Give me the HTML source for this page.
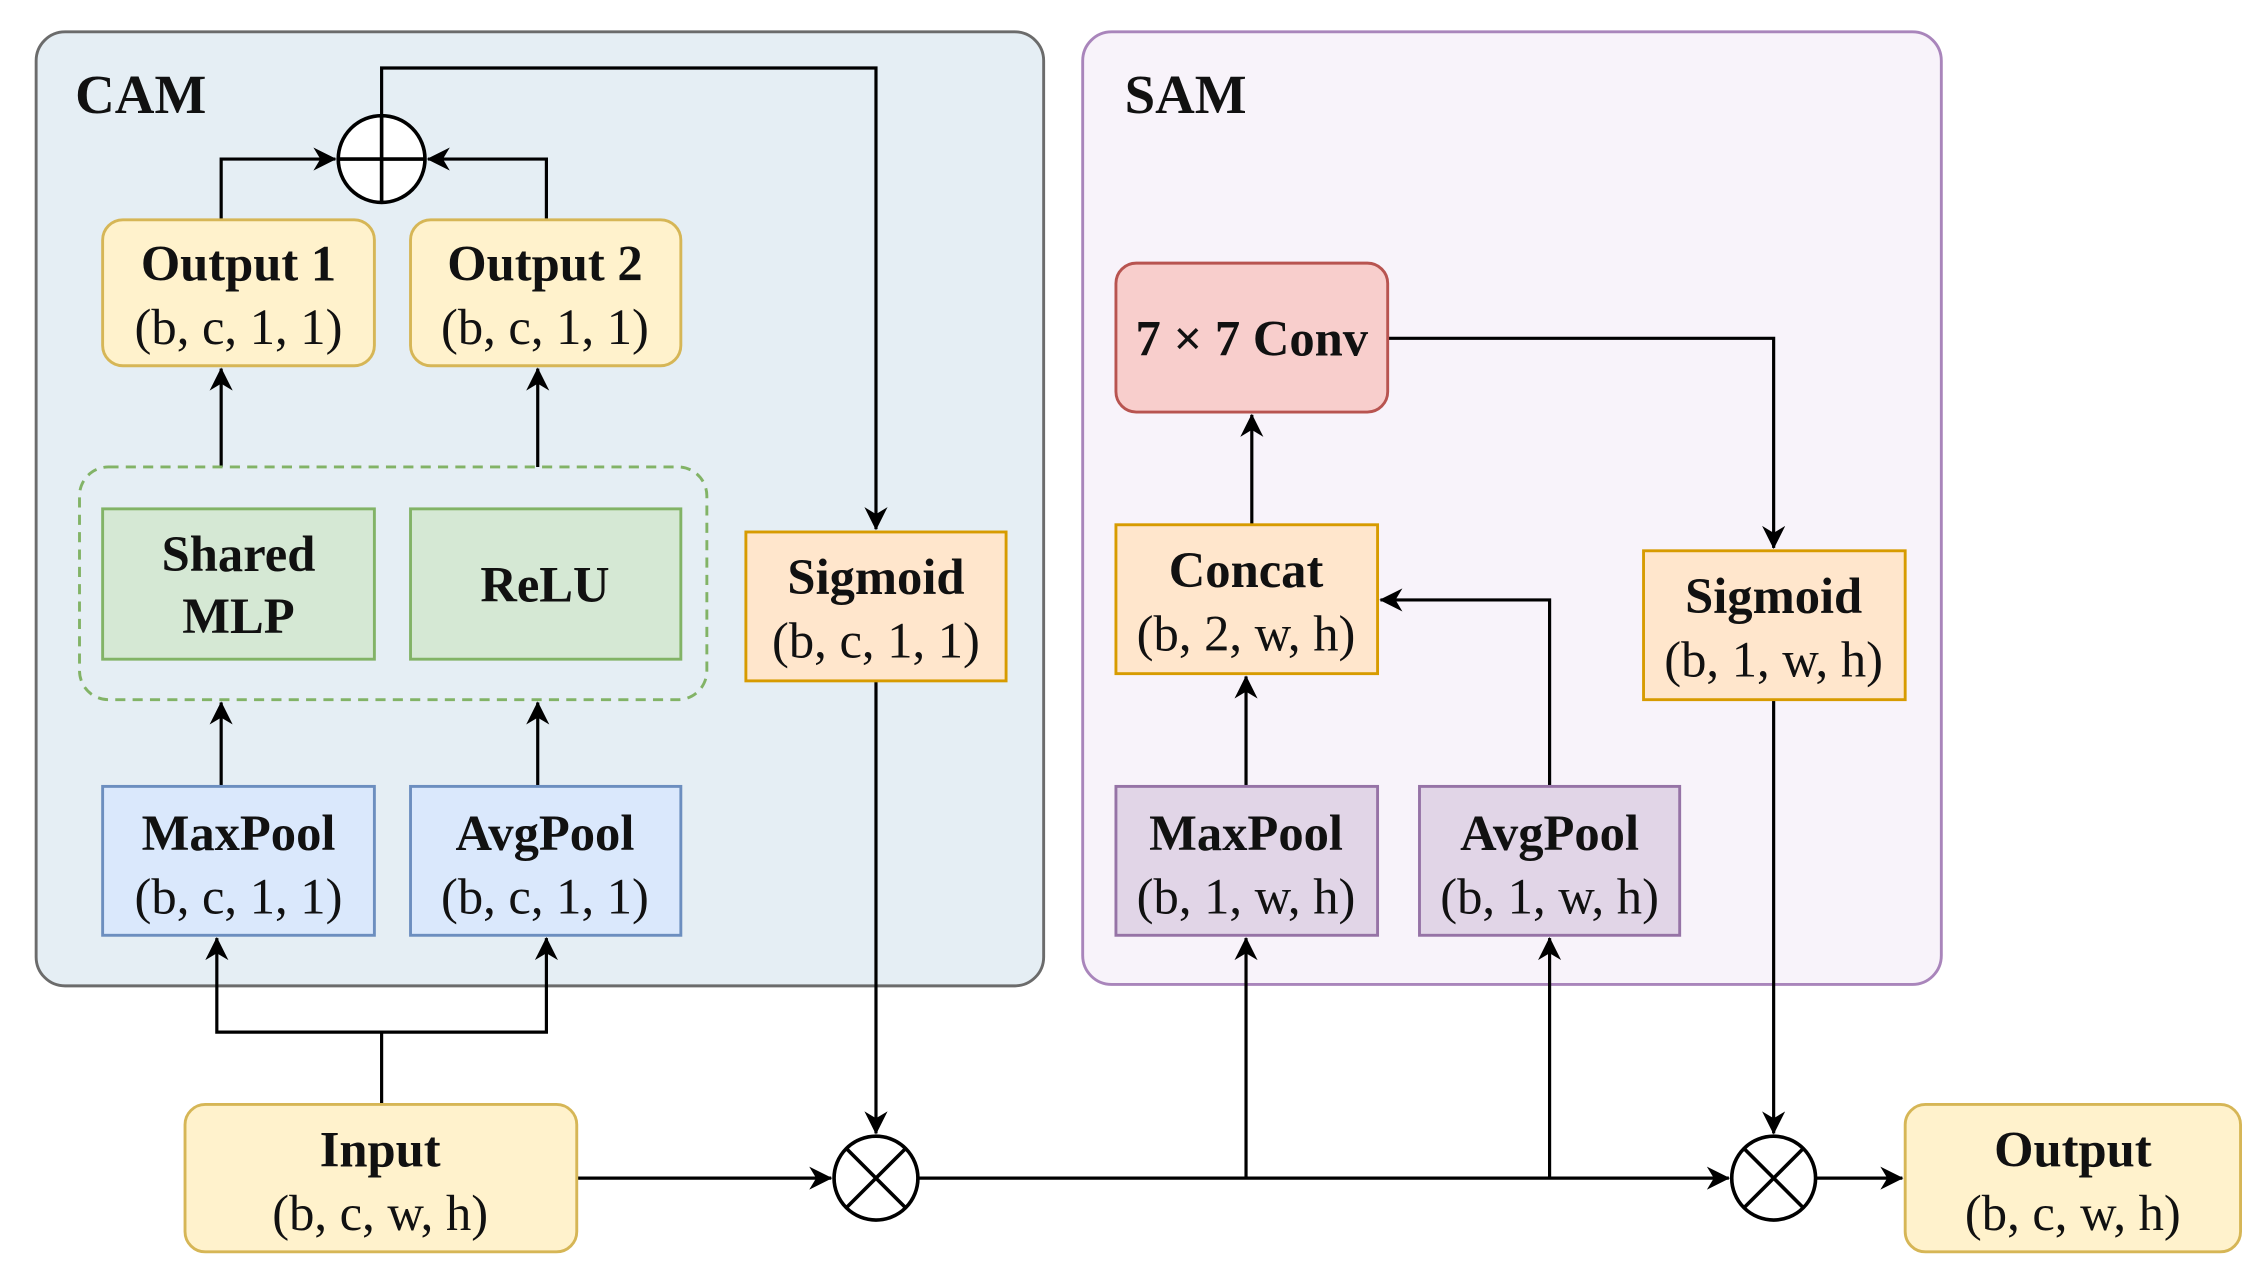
<!DOCTYPE html>
<html><head><meta charset="utf-8"><style>
html,body{margin:0;padding:0;background:#fff;}
svg{display:block;}
text{font-family:"Liberation Serif","DejaVu Serif",serif;fill:#111;text-anchor:middle;}
.b{font-weight:bold;}
</style></head><body>
<svg width="2255" height="1273" viewBox="0 0 1560 880.6" xmlns="http://www.w3.org/2000/svg">
<defs>
<marker id="a" viewBox="0 0 10 10" refX="9.5" refY="5" markerWidth="18" markerHeight="16" markerUnits="userSpaceOnUse" orient="auto">
<path d="M0,0 L10,5 L0,10 L3,5 z" fill="#000"/></marker>
</defs>
<rect x="25" y="22" width="697" height="660" rx="20" fill="#e5eef4" stroke="#6b6b6b" stroke-width="2"/>
<rect x="749" y="22" width="594" height="659" rx="20" fill="#f8f3fa" stroke="#a985bb" stroke-width="2"/>
<text x="52" y="78" class="b" style="text-anchor:start;font-size:38px">CAM</text>
<text x="778" y="78" class="b" style="text-anchor:start;font-size:38px">SAM</text>

<g stroke="#000" stroke-width="2.2" fill="none">
<path d="M264,80 V47 H606 V366" marker-end="url(#a)"/>
<path d="M153,152 V110 H232" marker-end="url(#a)"/>
<path d="M378,152 V110 H296" marker-end="url(#a)"/>
<path d="M153,323 V255" marker-end="url(#a)"/>
<path d="M372,323 V255" marker-end="url(#a)"/>
<path d="M153,544 V486" marker-end="url(#a)"/>
<path d="M372,544 V486" marker-end="url(#a)"/>
<path d="M264,764 V714 H150 V649" marker-end="url(#a)"/>
<path d="M264,714 H378 V649" marker-end="url(#a)"/>
<path d="M606,471 V784" marker-end="url(#a)"/>
<path d="M399,815 H575" marker-end="url(#a)"/>
<path d="M635,815 H1196" marker-end="url(#a)"/>
<path d="M862,815 V649" marker-end="url(#a)"/>
<path d="M1072,815 V649" marker-end="url(#a)"/>
<path d="M862,544 V468" marker-end="url(#a)"/>
<path d="M866,363 V287" marker-end="url(#a)"/>
<path d="M1072,544 V415 H955" marker-end="url(#a)"/>
<path d="M960,234 H1227 V379" marker-end="url(#a)"/>
<path d="M1227,484 V784" marker-end="url(#a)"/>
<path d="M1256,815 H1316" marker-end="url(#a)"/>
</g>

<g stroke="#000" stroke-width="2.5" fill="#fff">
<circle cx="264" cy="110" r="30"/>
<path d="M234,110 H294 M264,80 V140" fill="none"/>
<circle cx="606" cy="815" r="29"/>
<path d="M585.5,794.5 L626.5,835.5 M626.5,794.5 L585.5,835.5" fill="none"/>
<circle cx="1227" cy="815" r="29"/>
<path d="M1206.5,794.5 L1247.5,835.5 M1247.5,794.5 L1206.5,835.5" fill="none"/>
</g>

<rect x="55" y="323" width="434" height="161" rx="20" fill="none" stroke="#82b366" stroke-width="2" stroke-dasharray="7,5"/>

<g stroke-width="2">
<rect x="71" y="152" width="188" height="101" rx="14" fill="#fff2cc" stroke="#d6b656"/>
<rect x="284" y="152" width="187" height="101" rx="14" fill="#fff2cc" stroke="#d6b656"/>
<rect x="71" y="352" width="188" height="104" fill="#d5e8d4" stroke="#82b366"/>
<rect x="284" y="352" width="187" height="104" fill="#d5e8d4" stroke="#82b366"/>
<rect x="71" y="544" width="188" height="103" fill="#dae8fc" stroke="#6c8ebf"/>
<rect x="284" y="544" width="187" height="103" fill="#dae8fc" stroke="#6c8ebf"/>
<rect x="516" y="368" width="180" height="103" fill="#ffe6cc" stroke="#d79b00"/>
<rect x="128" y="764" width="271" height="102" rx="14" fill="#fff2cc" stroke="#d6b656"/>
<rect x="1318" y="764" width="232" height="102" rx="14" fill="#fff2cc" stroke="#d6b656"/>
<rect x="772" y="182" width="188" height="103" rx="14" fill="#f8cecc" stroke="#b85450"/>
<rect x="772" y="363" width="181" height="103" fill="#ffe6cc" stroke="#d79b00"/>
<rect x="1137" y="381" width="181" height="103" fill="#ffe6cc" stroke="#d79b00"/>
<rect x="772" y="544" width="181" height="103" fill="#e1d5e7" stroke="#9673a6"/>
<rect x="982" y="544" width="180" height="103" fill="#e1d5e7" stroke="#9673a6"/>
</g>

<g style="font-size:35px">
<text x="165" y="194" class="b">Output 1</text><text x="165" y="238">(b, c, 1, 1)</text>
<text x="377" y="194" class="b">Output 2</text><text x="377" y="238">(b, c, 1, 1)</text>
<text x="165" y="395" class="b">Shared</text><text x="165" y="438" class="b">MLP</text>
<text x="377" y="416" class="b">ReLU</text>
<text x="165" y="588" class="b">MaxPool</text><text x="165" y="632">(b, c, 1, 1)</text>
<text x="377" y="588" class="b">AvgPool</text><text x="377" y="632">(b, c, 1, 1)</text>
<text x="606" y="411" class="b">Sigmoid</text><text x="606" y="455">(b, c, 1, 1)</text>
<text x="263" y="807" class="b">Input</text><text x="263" y="851">(b, c, w, h)</text>
<text x="1434" y="807" class="b">Output</text><text x="1434" y="851">(b, c, w, h)</text>
<text x="866" y="246" class="b">7 × 7 Conv</text>
<text x="862" y="406" class="b">Concat</text><text x="862" y="450">(b, 2, w, h)</text>
<text x="1227" y="424" class="b">Sigmoid</text><text x="1227" y="468">(b, 1, w, h)</text>
<text x="862" y="588" class="b">MaxPool</text><text x="862" y="632">(b, 1, w, h)</text>
<text x="1072" y="588" class="b">AvgPool</text><text x="1072" y="632">(b, 1, w, h)</text>
</g>
</svg>
</body></html>
